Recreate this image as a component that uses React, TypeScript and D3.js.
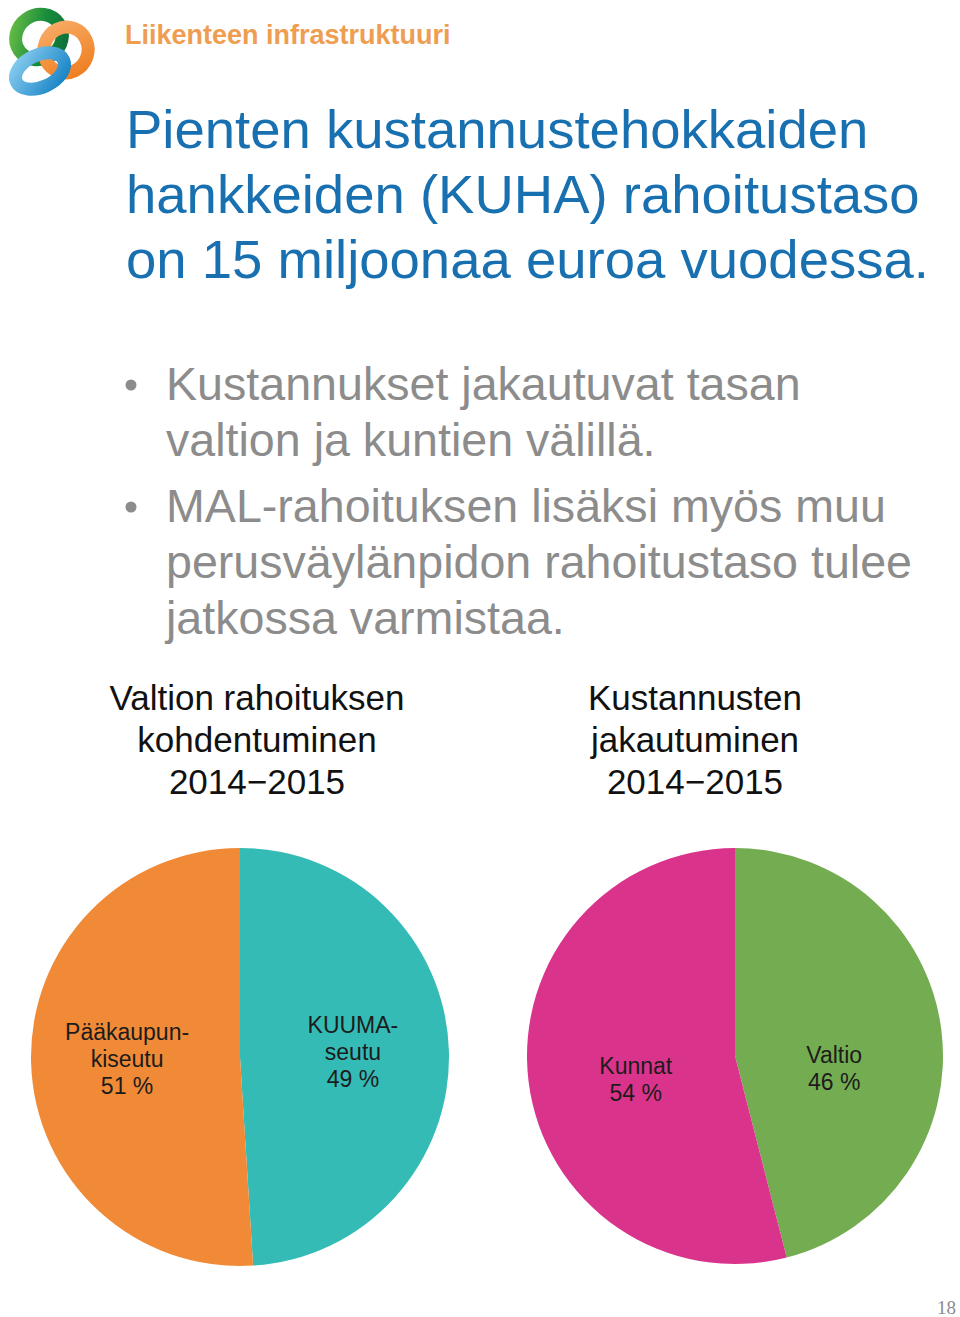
import React from "react";
import * as d3 from "d3";

// ---- Data ----
const headerText = "Liikenteen infrastruktuuri";
const titleLines = ["Pienten kustannustehokkaiden", "hankkeiden (KUHA) rahoitustaso", "on 15 miljoonaa euroa vuodessa."];
const bulletItems = [
  ["Kustannukset jakautuvat tasan", "valtion ja kuntien välillä."],
  ["MAL-rahoituksen lisäksi myös muu", "perusväylänpidon rahoitustaso tulee", "jatkossa varmistaa."],
];
const leftTitle = ["Valtion rahoituksen", "kohdentuminen", "2014\u22122015"];
const rightTitle = ["Kustannusten", "jakautuminen", "2014\u22122015"];

const leftCategories = [["KUUMA-", "seutu"], ["Pääkaupun-", "kiseutu"]];
const leftValues = [49, 51];
const leftColors = ["#35bbb5", "#f08a36"];

const rightCategories = [["Valtio"], ["Kunnat"]];
const rightValues = [46, 54];
const rightColors = ["#74ad51", "#da338b"];

const pageNumber = "18";

const FONT = "'Liberation Sans', Arial, Helvetica, sans-serif";

function Pie({ cx, cy, r, cats, values, colors, labelR, nudge }: any) {
  const data = values.map((v: number, i: number) => ({ v, i }));
  const pie = d3.pie<any>().value((d) => d.v).sort(null).startAngle(0).endAngle(2 * Math.PI);
  const arcs = pie(data);
  const arc = d3.arc<any>().innerRadius(0).outerRadius(r);
  const lArc = d3.arc<any>().innerRadius(labelR).outerRadius(labelR);
  const lh = 27;
  return (
    <g transform={`translate(${cx},${cy})`}>
      {arcs.map((a, k) => (
        <path key={k} d={arc(a) as string} fill={colors[a.data.i]} />
      ))}
      {arcs.map((a, k) => {
        const [x, y] = lArc.centroid(a);
        const lines = [...cats[a.data.i], `${values[a.data.i]} %`];
        const n = lines.length;
        const y0 = y - ((n - 1) * lh) / 2 + nudge[a.data.i];
        return (
          <text key={"t" + k} x={x} y={y0} textAnchor="middle" fontFamily={FONT} fontSize={23} fill="#1c1c1c">
            {lines.map((l, j) => (
              <tspan key={j} x={x} y={y0 + j * lh} dy="0.35em">{l}</tspan>
            ))}
          </text>
        );
      })}
    </g>
  );
}

function Logo() {
  return (
    <g>
      <defs>
        <linearGradient id="gG" x1="0" y1="0" x2="1" y2="1">
          <stop offset="0" stopColor="#6cbf45" />
          <stop offset="0.55" stopColor="#168c3c" />
          <stop offset="1" stopColor="#0c6e3a" />
        </linearGradient>
        <linearGradient id="gO" x1="0" y1="0" x2="1" y2="1">
          <stop offset="0" stopColor="#f8ab66" />
          <stop offset="1" stopColor="#ee7d1e" />
        </linearGradient>
        <linearGradient id="gB" x1="0" y1="0" x2="1" y2="1">
          <stop offset="0" stopColor="#86cbef" />
          <stop offset="1" stopColor="#1683c4" />
        </linearGradient>
      </defs>
      <ellipse cx={39} cy={37} rx={24} ry={22} transform="rotate(-35 39 37)" fill="none" stroke="url(#gG)" strokeWidth={13} />
      <ellipse cx={66} cy={50} rx={22} ry={23} transform="rotate(20 66 50)" fill="none" stroke="url(#gO)" strokeWidth={13} />
      <ellipse cx={40} cy={71} rx={26} ry={16} transform="rotate(-25 40 71)" fill="none" stroke="url(#gB)" strokeWidth={13} />
    </g>
  );
}

export default function App() {
  const W = 960, H = 1317;
  return (
    <svg width={W} height={H} style={{ position: "absolute", left: 0, top: 0, background: "#fff" }}>
      <rect width={W} height={H} fill="#fff" />
      <Logo />
      <text x={125} y={44} fontFamily={FONT} fontWeight="bold" fontSize={27} fill="#ef9d50">{headerText}</text>
      {titleLines.map((l, i) => (
        <text key={i} x={126} y={148 + i * 65} fontFamily={FONT} fontSize={54.5} fill="#1870b0">{l}</text>
      ))}
      {(() => {
        const out: any[] = [];
        let y = 400;
        bulletItems.forEach((item, bi) => {
          out.push(<circle key={"b" + bi} cx={131} cy={y - 15} r={5.5} fill="#8c8c8c" />);
          item.forEach((l, li) => {
            out.push(
              <text key={bi + "-" + li} x={166} y={y} fontFamily={FONT} fontSize={46.6} fill="#8c8c8c">{l}</text>
            );
            y += 56;
          });
          y += 10;
        });
        return out;
      })()}
      {leftTitle.map((l, i) => (
        <text key={"lt" + i} x={257} y={710 + i * 42} textAnchor="middle" fontFamily={FONT} fontSize={35} fill="#111">{l}</text>
      ))}
      {rightTitle.map((l, i) => (
        <text key={"rt" + i} x={695} y={710 + i * 42} textAnchor="middle" fontFamily={FONT} fontSize={35} fill="#111">{l}</text>
      ))}
      <Pie cx={240} cy={1057} r={209} cats={leftCategories} values={leftValues} colors={leftColors} labelR={113} nudge={[-2, -2]} />
      <Pie cx={735} cy={1056} r={208} cats={rightCategories} values={rightValues} colors={rightColors} labelR={100} nudge={[25, 11]} />
      <text x={956} y={1314} textAnchor="end" fontFamily="'Liberation Serif', 'DejaVu Serif', serif" fontSize={19} fill="#8a8a8a">{pageNumber}</text>
    </svg>
  );
}
